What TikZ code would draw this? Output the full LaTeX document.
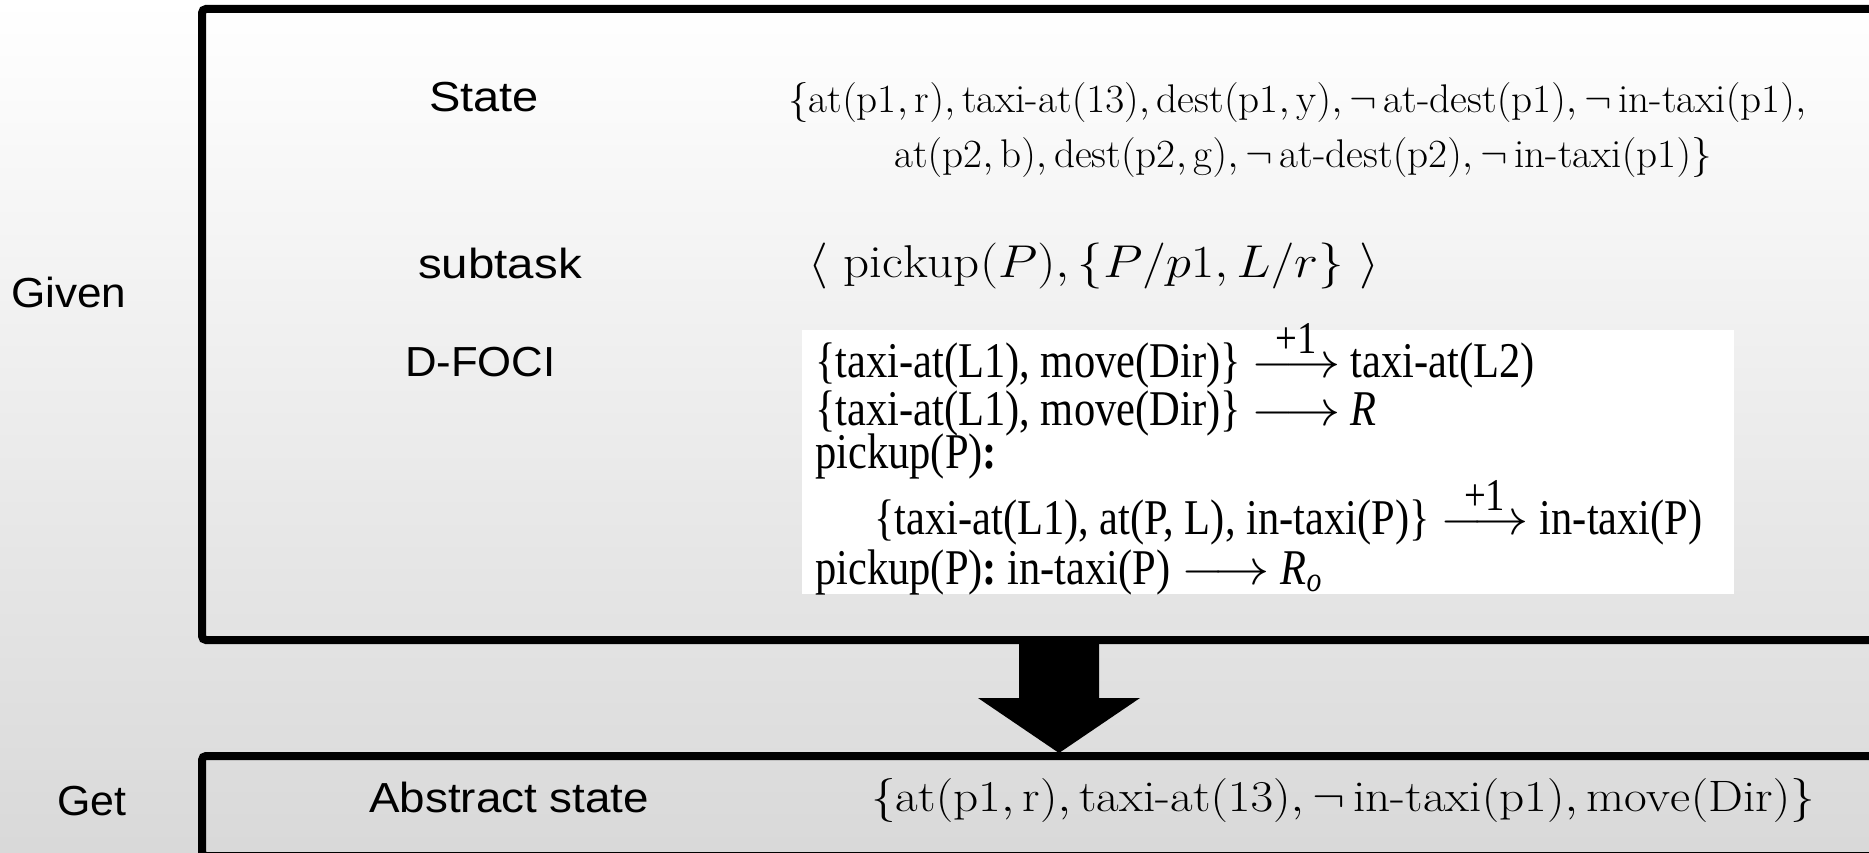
\RequirePackage{fix-cm}
\documentclass[tikz,border=0pt]{standalone}
\usepackage{amsmath}
\usepackage{graphicx}
\usepackage{fontspec}
\usetikzlibrary{calc}
\newfontfamily\labfont{Liberation Sans}
\newfontfamily\tmsfont{Liberation Serif}
\newcommand\larr{\mathrel{\scalebox{1.3}[1]{$\longrightarrow$}}}
\newcommand\plarr{\mathrel{\overset{\text{\scalebox{1.3}{+1}}}{\scalebox{1.3}[1]{$\longrightarrow$}}}}
\begin{document}
\begin{tikzpicture}[x=1pt,y=-1pt,
  lab/.style={font=\labfont\fontsize{42}{50}\selectfont, anchor=base west, inner sep=0pt},
  mth/.style={anchor=base west, inner sep=0pt},
  statefont/.style={font=\fontsize{40}{48}\selectfont},
  subfont/.style={font=\fontsize{46}{54}\selectfont},
  absfont/.style={font=\fontsize{44}{52}\selectfont},
  focifont/.style={font=\tmsfont\fontsize{50}{60}\selectfont},
  boxline/.style={draw=black, line width=8pt, rounded corners=4pt}]
\useasboundingbox (0,0) rectangle (1869,853);
\shade[top color=white, bottom color=black!15] (0,0) rectangle (1869,853);
\begin{scope}
  \clip (0,0) rectangle (1869,853);
  \draw[boxline] (202,9) rectangle (1900,640);
  \draw[boxline] (202,756) rectangle (1900,856);
\end{scope}
\fill[white] (802,330) rectangle (1734,594);
% block arrow between the two boxes
\coordinate (arrtop) at (1059,643);
\coordinate (arrtip) at (1059,753);
\fill[black] ($(arrtop)+(-40,0)$) -- ($(arrtop)+(40,0)$) -- ($(arrtop)+(40,55)$)
  -- ($(arrtop)+(81,55)$) -- (arrtip) -- ($(arrtop)+(-81,55)$) -- ($(arrtop)+(-40,55)$) -- cycle;
% labels
\node[lab] (given) at (11,307) {\scalebox{1.05}[1]{Given}};
\node[lab] (get) at (57,815) {\scalebox{1.02}[1]{Get}};
\node[lab] (state) at (429,112) {\scalebox{1.12}[1]{State}};
\node[lab] (subtask) at (418,278) {\scalebox{1.13}[1]{subtask}};
\node[lab] (dfoci) at (405,376) {\scalebox{1.04}[1]{D-FOCI}};
\node[lab] (abs) at (369,812) {\scalebox{1.09}[1]{Abstract state}};
% state
\node[mth, statefont] (s1) at (788,113) {\scalebox{1.03}[1]{$\{\mathrm{at}(\mathrm{p1},\mathrm{r}),\text{taxi-at}(13),\mathrm{dest}(\mathrm{p1},\mathrm{y}),\neg\,\text{at-dest}(\mathrm{p1}),\neg\,\text{in-taxi}(\mathrm{p1}),$}};
\node[mth, statefont] (s2) at (894,168) {\scalebox{1.03}[1]{$\mathrm{at}(\mathrm{p2},\mathrm{b}),\mathrm{dest}(\mathrm{p2},\mathrm{g}),\neg\,\text{at-dest}(\mathrm{p2}),\neg\,\text{in-taxi}(\mathrm{p1})\}$}};
% subtask
\node[mth, subfont] (sub) at (808,277) {\scalebox{1.11}[1]{$\langle\ \mathrm{pickup}(P),\{P/p1,L/r\}\ \rangle$}};
% D-FOCI
\node[mth, focifont] (f1) at (815,377) {\scalebox{0.85}[1]{\{taxi-at(L1), move(Dir)\} $\plarr$ taxi-at(L2)}};
\node[mth, focifont] (f2) at (815,425) {\scalebox{0.85}[1]{\{taxi-at(L1), move(Dir)\} $\larr$ \textit{R}}};
\node[mth, focifont] (f3) at (815,468) {\scalebox{0.85}[1]{pickup(P)\textbf{:}}};
\node[mth, focifont] (f4) at (874,534) {\scalebox{0.85}[1]{\{taxi-at(L1), at(P, L), in-taxi(P)\} $\plarr$ in-taxi(P)}};
\node[mth, focifont] (f5) at (815,584) {\scalebox{0.85}[1]{pickup(P)\textbf{:} in-taxi(P) $\larr$ \textit{R}\textsubscript{\textit{o}}}};
% abstract state
\node[mth, absfont] (a1) at (871,811) {\scalebox{1.12}[1]{$\{\mathrm{at}(\mathrm{p1},\mathrm{r}),\text{taxi-at}(13),\neg\,\text{in-taxi}(\mathrm{p1}),\mathrm{move}(\mathrm{Dir})\}$}};
\end{tikzpicture}
\end{document}
